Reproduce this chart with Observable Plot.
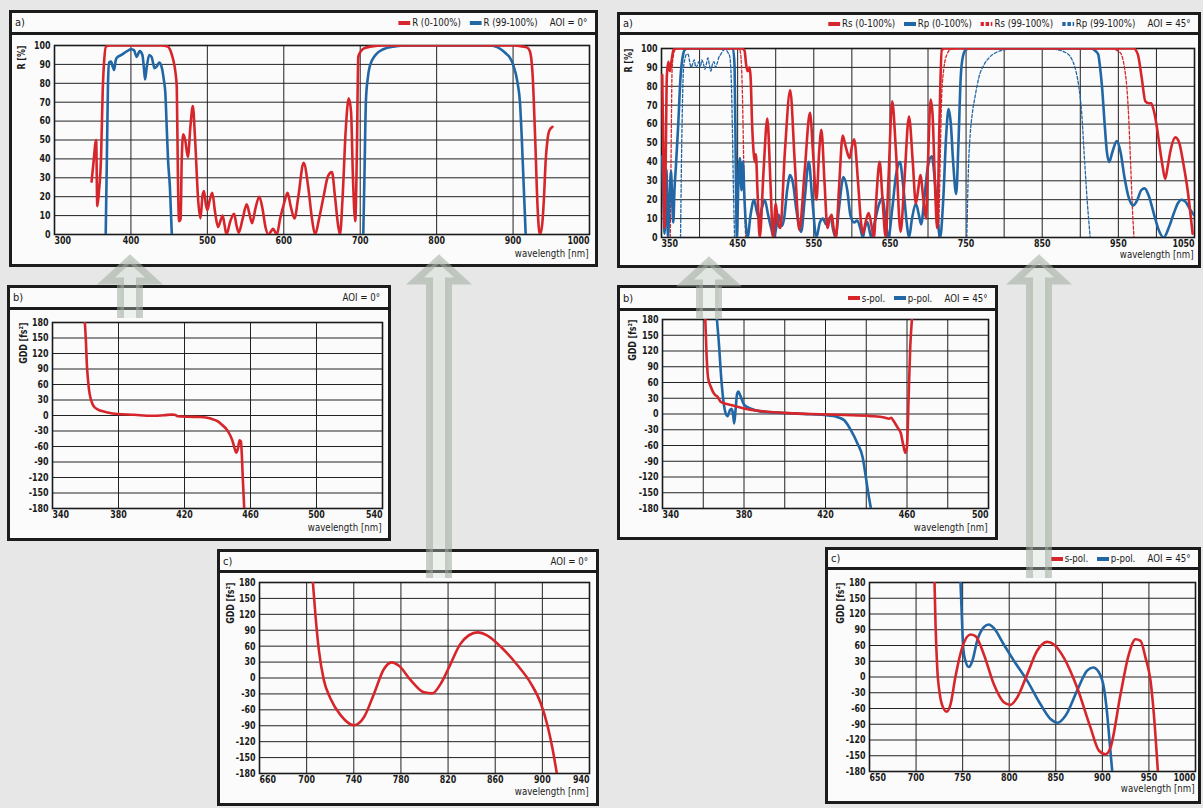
<!DOCTYPE html>
<html><head><meta charset="utf-8">
<script src="https://cdn.jsdelivr.net/npm/d3@7"></script>
<script src="https://cdn.jsdelivr.net/npm/@observablehq/plot@0.6"></script>
<style>
html,body{margin:0;padding:0;}
body{width:1203px;height:808px;background:#e6e7e6;position:relative;overflow:hidden;font-family:"Liberation Sans Narrow","DejaVu Sans Condensed","Arial Narrow",sans-serif;color:#1a1a1a;}
.panel{position:absolute;box-sizing:border-box;border:3px solid #1c1c1c;background:#fbfbfb;}
.hdr{position:absolute;left:0;right:0;top:0;box-sizing:border-box;border-bottom:3px solid #1c1c1c;display:flex;align-items:center;justify-content:space-between;padding:0 8px 0 3px;font-size:11px;}
.leg{display:flex;align-items:center;transform:scaleX(0.87);transform-origin:right center;}
.li{display:inline-flex;align-items:center;margin-right:10px;}
.li svg{margin-right:2px;}
.aoi{margin-left:4px;}
#arrows{position:absolute;left:0;top:0;pointer-events:none;z-index:10;}
</style></head><body>
<script>
const RED = "#d7262b", BLUE = "#2166a5";

// ---------- a) AOI = 0° : reflectance ----------
const a0_R_full = [[348.5,28],[351,38],[354.5,50],[356,15],[358,22],[361,42],[363,75],[365,92],[367.5,99.5],[372,100],[440,100],[448,99.5],[452,97],[455,93],[458.5,85],[460,78],[461.5,30],[463,7],[465,8],[466.5,40],[468.5,53],[471,50],[474.5,41],[478,58],[481,68],[484,50],[488,18],[491,8.5],[493.5,20],[495.5,23],[498,16],[500,13],[503,18],[506.5,22],[510,12],[514,4],[517,7],[520,10],[522.5,5],[525,0],[530,7],[535,11],[538,5],[541,1],[546,8],[551.5,16],[555,11],[558.5,6],[563,14],[568,20],[572,14],[576,4],[580,0],[583,1.5],[586,3],[588.5,1.5],[591,0],[595,8],[600,16],[605,22],[609,15],[614,8.5],[619,20],[626,38],[632,25],[637,8],[641,0],[646,8],[652,20],[658,31],[663,33],[667,20],[671,5],[673.5,0],[677,20],[681,55],[685,72],[688,65],[690.5,30],[693.5,7],[695.5,40],[697.5,94],[701,97],[705,98.5],[715,99.5],[730,100],[900,100],[912,99.5],[918,99],[922,97],[925.5,85],[929,50],[932,15],[935,0],[938,5],[940.5,20],[942.5,38],[945,50],[947.5,55],[951.5,57]];
const a0_R_hr_1 = [[367,0],[368.5,40],[370,80],[371.5,91],[374,91.5],[376,89],[378,87],[380,92],[381.5,93.5],[387.5,95],[395,97],[400,98],[404,97.5],[407.5,94],[411.5,97],[415,95],[417,88],[418.5,82],[420.5,88],[424,95],[427,94],[431,88],[434,89],[437,91],[440,89],[443,82],[445,75],[447,55],[448.5,40],[451,25],[453.5,0]];
const a0_R_hr_2 = [[704,0],[705.5,30],[707.5,71],[710,83],[712.5,89],[720,95],[730,98],[745,99.5],[760,100],[870,100],[880,99],[890,96],[895,94],[900,90],[906,80],[909,70],[911.5,50],[914,25],[916.5,0]];

// ---------- a) AOI = 45° : reflectance ----------
const a45_Rs_full = [[351,86],[352.5,40],[354,5],[355.5,40],[357,85],[359,93],[361,88],[363,93],[366,99.5],[370,100],[455,100],[459,99],[461,92],[463,88],[465.5,90],[467,85],[469,60],[471,45],[472.5,40],[474,44],[476,25],[479,0],[484,35],[489,63],[493,30],[496.5,0],[500,18],[503,8],[506,5],[512,45],[519,78],[525,40],[531,4],[538,35],[545,66],[549,45],[553.5,20],[557,45],[560,57],[564,30],[568,5],[571,10],[573.5,12],[576,5],[579,0],[583,25],[588,54],[592,48],[597,42],[600,48],[603,52],[608,30],[612,8],[614.5,2],[618,8],[622,13],[626,6],[629,0],[632,20],[636.5,40],[640,22],[644.5,0],[648,30],[653,72],[658,45],[664,3],[669,30],[675,64],[680,40],[684,18],[687,25],[690,33],[694,20],[697.5,10],[700,40],[703.5,73],[706,65],[709,30],[712,5],[715,60],[718,99],[722,100],[970,100],[975.5,97],[980.5,85],[985.5,72],[990,71],[993,71],[996,68],[1000,60],[1003.5,50],[1008,38],[1011.5,31],[1015,38],[1018,45],[1025,53],[1030,50],[1035,40],[1041,25],[1047.5,2]];
const a45_Rp_full = [[351,43],[352.5,20],[354,2],[355.5,20],[356.5,36],[357.5,20],[358.5,0],[360.5,20],[362.5,35],[364,20],[365.5,8],[367,25],[369,38],[372,60],[375,85],[378,96],[381,99.5],[385,100],[444,100],[446,90],[447.5,40],[449,0],[451,30],[453,42],[455,25],[457,40],[459,20],[463,0],[467,12],[471.5,20],[475,14],[478,10],[482,16],[485.5,20],[490,12],[494,5],[497.5,0],[501,6],[504,12],[508,6],[511,10],[515,25],[519,33],[523,28],[527,15],[533.5,3],[538,20],[543.5,40],[548,20],[553.5,0],[558,8],[562,10],[566,7],[570,10],[572.5,11],[575,5],[578.5,0],[583,15],[589,32],[594,25],[598,12],[603,8],[607,9],[611,5],[614.5,0],[617,5],[620.5,8],[623,4],[625.5,0],[630,8],[636,18],[640.5,21],[644,10],[648,0],[653,15],[658,33],[663,40],[668,25],[672,8],[675,0],[679,10],[684,18],[688,12],[691,7],[695,20],[700,38],[705,43],[709,30],[713,8],[716,0],[720,20],[724,55],[727,68],[730,60],[733,40],[737,23],[740,50],[743,85],[746,96],[750,99.5],[755,100],[915,100],[919,99],[923.5,97],[926,90],[928.5,80],[932,60],[935,45],[938,40],[942,45],[948,51],[953,45],[958,32],[963,22],[969.5,17],[975,20],[980,25],[984.5,26],[990,22],[997,12],[1003,4],[1009.5,0],[1016,5],[1023,13],[1028,18],[1033,20],[1038,19],[1044,15],[1049,12]];
const a45_Rs_hr_1 = [[361.5,0],[362.5,40],[364,90],[366,97],[369,100],[452,100],[454,97],[456,80],[458.5,30],[460.5,0]];
const a45_Rs_hr_2 = [[714,0],[716,40],[718,75],[721,90],[725,97],[730,99.5],[740,100],[940,100],[948,99],[953,97.5],[958,90],[961,80],[963,68],[966,40],[968.5,15],[970.5,0]];
const a45_Rp_hr_1 = [[375,0],[377,60],[379,90],[381,95],[383,97],[385,97],[387,93],[389,90],[391,92],[393,94],[395,90],[397,91],[399,93],[401,90],[403,94],[405,92],[407,89],[409,92],[411,95],[413,91],[415,88],[417,92],[419,93],[421,90],[423,92],[425,95],[428,97],[431,99],[434,99.5],[437,98],[439.5,96],[441.5,85],[443,60],[444.5,25],[446,0]];
const a45_Rp_hr_2 = [[751,0],[753,35],[755.5,55],[758,65],[762,75],[767,85],[773,91],[780,95],[790,98],[800,99.3],[815,100],[860,100],[870,99.3],[880,98],[888,95],[893,90],[898,80],[902,65],[905,45],[909,20],[913,0]];

// ---------- b) GDD short band ----------
const b0_gdd = [[359.6,180],[360.3,140],[360.8,100],[361.5,70],[362.2,48],[363.2,32],[364.2,22.5],[365.5,16],[367.3,12],[370,8.5],[373.3,6],[379.4,3],[389.5,1.5],[399.6,-0.6],[407.7,0.5],[412.7,2],[414.5,1],[415.8,-1.5],[421.8,-2.5],[429.9,-3],[435.9,-6],[440,-11],[442,-16],[446,-29],[449,-48],[450.5,-65],[451.3,-72],[452.3,-65],[453.4,-48],[454.2,-50],[454.8,-80],[455.3,-120],[456.2,-180]];
const b45_s = [[361,180],[361.6,115],[362.4,68],[363.7,52],[365.4,38],[367,33],[368.6,23],[373.6,17],[380,10.5],[388.3,5.4],[399.7,2.2],[412.8,0],[429.2,-2],[442.3,-4],[448.8,-6.5],[451.2,-9],[452.2,-7],[453.2,-12],[455.4,-26],[457,-37],[458.2,-60],[459.2,-74],[460,-62],[460.8,33],[461.6,128],[462.4,180]];
const b45_p = [[366.7,180],[367.8,128],[368.6,80],[369.5,39],[370.8,4],[371.9,-4],[373.2,8],[373.9,10],[374.6,0],[375.2,-18],[375.9,10],[376.6,38],[377.2,43],[378.2,35],[380,18],[383.4,10],[388,5],[399.7,2],[409.6,0],[419.4,-2],[426,-6],[429.2,-12],[432.5,-31],[435.7,-56],[438.2,-82],[439.8,-120],[441,-151],[442.3,-180]];

// ---------- c) GDD long band ----------
const c0_gdd = [[705.3,180],[707.6,115],[710.4,52],[714.6,-4],[720.3,-39],[728.8,-70],[740.1,-89],[748.6,-74],[757.1,-30],[765.6,17],[772.1,29.5],[778.3,23],[788.3,-4],[799.6,-27],[806.7,-29],[813.7,-11],[820.8,20],[830.7,65],[844.9,86],[853.4,80],[864.7,59],[878.9,24],[890.2,-10],[898.7,-48],[904.3,-89],[908.6,-133],[912.3,-180]];
const c45_s = [[719.8,180],[720.9,100],[722.7,18],[725.5,-33],[729.8,-61],[732.7,-66],[737,-52],[742.3,1],[749.5,56],[758.4,81],[763.8,78],[772.8,43],[783.5,-14],[794.2,-48],[801.4,-53],[808.6,-39],[819.3,5],[830,50],[840.7,67],[847.9,62],[858.6,37],[872.9,-20],[887.2,-96],[896.2,-140],[903.4,-147],[908.8,-134],[919.5,-33],[928.4,43],[935.6,72],[941,69],[946.3,37],[951.7,-7],[955.3,-71],[959.6,-180]];
const c45_p = [[747.7,180],[748.8,132],[750.6,56],[753.1,30],[756.7,19],[760.3,30],[765.6,69],[772.8,95],[778.1,100],[783.5,93],[794.2,62],[805,31],[819.3,-7],[833.6,-52],[844.3,-80],[852.2,-87],[860.4,-74],[872.9,-26],[883.6,12],[890,18],[896.2,9],[901.6,-20],[905.2,-71],[908,-128],[910.6,-180]];

// ---------- ticks ----------
const R_ticks = [0,10,20,30,40,50,60,70,80,90,100];
const GDD_ticks = [-180,-150,-120,-90,-60,-30,0,30,60,90,120,150,180];
const a0_xticks = [300,400,500,600,700,800,900,1000];
const a45_xgrid = [350,400,450,500,550,600,650,700,750,800,850,900,950,1000,1050];
const a45_xlabels = [350,450,550,650,750,850,950,1050];
const b0_xticks = [340,380,420,460,500,540];
const b45_xgrid = [340,360,380,400,420,440,460,480,500];
const b45_xlabels = [340,380,420,460,500];
const c0_xticks = [660,700,740,780,820,860,900,940];
const c45_xticks = [650,700,750,800,850,900,950,1000];

const FONT = '"Liberation Sans Narrow","DejaVu Sans Condensed","Arial Narrow",sans-serif';
const SQUEEZE = 0.84;
const XLABEL = "wavelength [nm]";

function swatch(c, dash) {
  return `<svg width="14" height="6"><line x1="0" y1="3" x2="14" y2="3" stroke="${c}" stroke-width="4" ${dash ? `stroke-dasharray="${dash}"` : ""}/></svg>`;
}

function panel(cfg) {
  const [l, t, r, b] = cfg.box;
  const div = document.createElement("div");
  div.className = "panel";
  Object.assign(div.style, {left: l + "px", top: t + "px", width: (r - l) + "px", height: (b - t) + "px"});
  const hdr = document.createElement("div");
  hdr.className = "hdr";
  const hH = cfg.hb - (t + 3);
  hdr.style.height = hH + "px";
  const leg = (cfg.legend || []).map(d => `<span class="li">${swatch(d.c, d.dash)}${d.label}</span>`).join("");
  hdr.innerHTML = `<span>${cfg.tag}</span><span class="leg">${leg}<span class="aoi">${cfg.aoi}</span></span>`;
  div.appendChild(hdr);
  const [fl, ft, fr, fb] = cfg.frame;
  const W = r - l - 6, H = b - 3 - cfg.hb;
  const xl = cfg.xlabels;
  const tk = {fontWeight: "bold", fontSize: 10.5, fill: "#1a1a1a"};
  const marks = [
    Plot.gridX(cfg.xgrid, {stroke: "#222", strokeOpacity: 1, strokeWidth: 1}),
    Plot.gridY(cfg.yticks, {stroke: "#222", strokeOpacity: 1, strokeWidth: 1}),
    Plot.frame({stroke: "#1a1a1a", strokeWidth: 1.6}),
    Plot.text(cfg.yticks, {y: d => d, text: d => String(d), frameAnchor: "left", dx: -4, textAnchor: "end", ...tk}),
    Plot.text(xl.slice(1, -1), {x: d => d, text: d => String(d), frameAnchor: "bottom", dy: 9, ...tk}),
    Plot.text(xl.slice(0, 1), {x: d => d, text: d => String(d), frameAnchor: "bottom", dy: 9, textAnchor: "start", ...tk}),
    Plot.text(xl.slice(-1), {x: d => d, text: d => String(d), frameAnchor: "bottom", dy: 9, textAnchor: "end", ...tk}),
    Plot.text([XLABEL], {frameAnchor: "bottom-right", dy: cfg.wlDy, dx: -1, textAnchor: "end", fontSize: 9.6, fill: "#1a1a1a"}),
    Plot.text([cfg.ylabel], {frameAnchor: "top-left", dx: cfg.ylabelDx, rotate: -90, textAnchor: "end", fontWeight: "bold", fontSize: 10.5, fill: "#1a1a1a"}),
    ...cfg.series.map(s => Plot.line(s.data, {x: d => d[0], y: d => d[1], stroke: s.c, strokeWidth: s.w || 2.6, strokeDasharray: s.dash, curve: "monotone-x", clip: true}))
  ];
  const chart = Plot.plot({
    width: W, height: H,
    marginLeft: fl - (l + 3), marginRight: (r - 3) - fr,
    marginTop: ft - cfg.hb, marginBottom: (b - 3) - fb,
    x: {domain: cfg.xdom, axis: null},
    y: {domain: cfg.ydom, axis: null},
    style: {fontFamily: FONT, background: "transparent", overflow: "visible"},
    marks
  });
  chart.style.position = "absolute";
  chart.style.left = "0px";
  chart.style.top = hH + "px";
  div.appendChild(chart);
  document.body.appendChild(div);
  // condense tick and axis-name text horizontally (narrow typeface look)
  chart.querySelectorAll("text").forEach(el => {
    if (el.textContent === XLABEL) return;
    const w = el.getComputedTextLength();
    if (w > 0) { el.setAttribute("textLength", (w * SQUEEZE).toFixed(2)); el.setAttribute("lengthAdjust", "spacingAndGlyphs"); }
  });
}

panel({box: [9, 10, 598, 267], hb: 35, frame: [54, 45, 589, 234], tag: "a)", aoi: "AOI = 0°", wlDy: 22,
  legend: [{c: RED, label: "R (0-100%)"}, {c: BLUE, label: "R (99-100%)"}],
  xdom: [300, 1000], ydom: [0, 100], xgrid: a0_xticks, xlabels: a0_xticks, yticks: R_ticks, ylabel: "R [%]", ylabelDx: -37,
  series: [{data: a0_R_hr_1, c: BLUE}, {data: a0_R_hr_2, c: BLUE}, {data: a0_R_full, c: RED}]});

panel({box: [617, 12, 1201, 268], hb: 35, frame: [661, 48, 1194, 237], tag: "a)", aoi: "AOI = 45°", wlDy: 20.5,
  legend: [{c: RED, label: "Rs (0-100%)"}, {c: BLUE, label: "Rp (0-100%)"}, {c: RED, label: "Rs (99-100%)", dash: "4,2"}, {c: BLUE, label: "Rp (99-100%)", dash: "4,2"}],
  xdom: [350, 1050], ydom: [0, 100], xgrid: a45_xgrid, xlabels: a45_xlabels, yticks: R_ticks, ylabel: "R [%]", ylabelDx: -37,
  series: [{data: a45_Rp_hr_1, c: BLUE, w: 1.3, dash: "3,2"}, {data: a45_Rp_hr_2, c: BLUE, w: 1.3, dash: "3,2"},
           {data: a45_Rs_hr_1, c: RED, w: 1.3, dash: "3,2"}, {data: a45_Rs_hr_2, c: RED, w: 1.3, dash: "3,2"},
           {data: a45_Rp_full, c: BLUE}, {data: a45_Rs_full, c: RED}]});

panel({box: [7, 285, 391, 541], hb: 310, frame: [52, 322, 382, 508], tag: "b)", aoi: "AOI = 0°", wlDy: 22.5,
  xdom: [340, 540], ydom: [-180, 180], xgrid: b0_xticks, xlabels: b0_xticks, yticks: GDD_ticks, ylabel: "GDD [fs²]", ylabelDx: -33,
  series: [{data: b0_gdd, c: RED}]});

panel({box: [617, 285, 998, 540], hb: 311, frame: [662, 319, 988, 508], tag: "b)", aoi: "AOI = 45°", wlDy: 22,
  legend: [{c: RED, label: "s-pol."}, {c: BLUE, label: "p-pol."}],
  xdom: [340, 500], ydom: [-180, 180], xgrid: b45_xgrid, xlabels: b45_xlabels, yticks: GDD_ticks, ylabel: "GDD [fs²]", ylabelDx: -34,
  series: [{data: b45_p, c: BLUE}, {data: b45_s, c: RED}]});

panel({box: [217, 549, 599, 806], hb: 573, frame: [259, 582, 589, 773], tag: "c)", aoi: "AOI = 0°", wlDy: 21,
  xdom: [660, 940], ydom: [-180, 180], xgrid: c0_xticks, xlabels: c0_xticks, yticks: GDD_ticks, ylabel: "GDD [fs²]", ylabelDx: -33,
  series: [{data: c0_gdd, c: RED}]});

panel({box: [825, 547, 1201, 804], hb: 570, frame: [869, 582, 1195, 771], tag: "c)", aoi: "AOI = 45°", wlDy: 20.5,
  legend: [{c: RED, label: "s-pol."}, {c: BLUE, label: "p-pol."}],
  xdom: [650, 1000], ydom: [-180, 180], xgrid: c45_xticks, xlabels: c45_xticks, yticks: GDD_ticks, ylabel: "GDD [fs²]", ylabelDx: -33,
  series: [{data: c45_p, c: BLUE}, {data: c45_s, c: RED}]});

// decorative arrows linking the panels
const arrows = [[130, 254, 318], [439, 254, 578], [709, 256, 318], [1039, 254, 578]];
const ns = "http://www.w3.org/2000/svg";
const asvg = document.createElementNS(ns, "svg");
asvg.setAttribute("id", "arrows"); asvg.setAttribute("width", 1203); asvg.setAttribute("height", 808);
for (const [cx, tip, bot] of arrows) {
  const p = document.createElementNS(ns, "path");
  p.setAttribute("d", `M${cx - 9.5},${bot} V${tip + 27} H${cx - 24} L${cx},${tip + 5} L${cx + 24},${tip + 27} H${cx + 9.5} V${bot}`);
  p.setAttribute("fill", "rgba(215,225,215,0.35)");
  p.setAttribute("stroke", "rgba(160,172,160,0.55)");
  p.setAttribute("stroke-width", 7);
  p.setAttribute("stroke-linejoin", "miter");
  asvg.appendChild(p);
}
document.body.appendChild(asvg);
</script>
</body></html>
